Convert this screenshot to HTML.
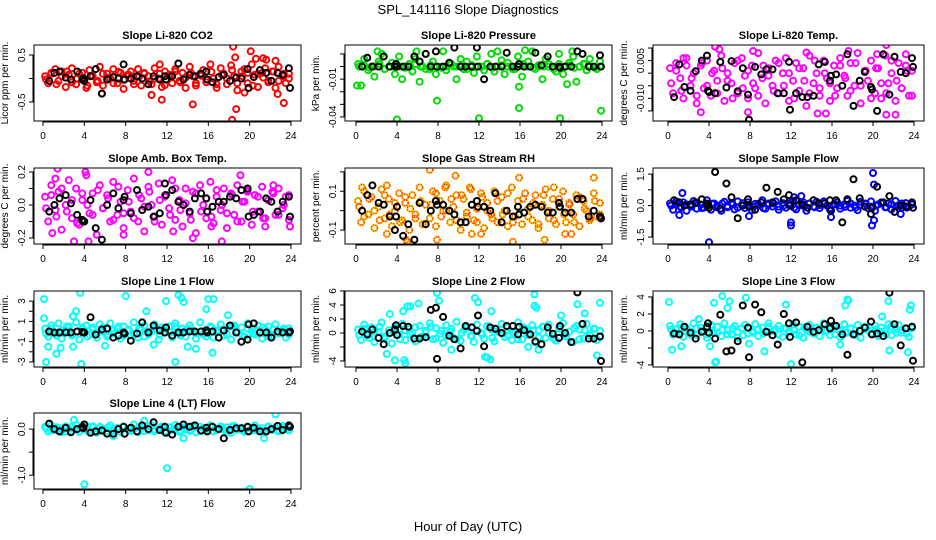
<!DOCTYPE html>
<html><head><meta charset="utf-8">
<style>
body{margin:0;background:#fff;}
svg{display:block;font-family:"Liberation Sans",sans-serif;}
</style></head>
<body>
<svg id="chart" width="936" height="540" viewBox="0 0 936 540" xmlns="http://www.w3.org/2000/svg">
<rect width="936" height="540" fill="#fff"/>
<text x="468" y="14" font-size="13" text-anchor="middle">SPL_141116  Slope Diagnostics</text>
<text x="468" y="531" font-size="13" text-anchor="middle">Hour of Day (UTC)</text>
</svg>
<script>
const hours=[0.2,0.5,0.8,1.2,1.5,1.8,2.2,2.5,2.8,3.2,3.5,3.8,4.2,4.5,4.8,5.2,5.5,5.8,6.2,6.5,6.8,7.2,7.5,7.8,8.2,8.5,8.8,9.2,9.5,9.8,10.2,10.5,10.8,11.2,11.5,11.8,12.2,12.5,12.8,13.2,13.5,13.8,14.2,14.5,14.8,15.2,15.5,15.8,16.2,16.5,16.8,17.2,17.5,17.8,18.2,18.5,18.8,19.2,19.5,19.8,20.2,20.5,20.8,21.2,21.5,21.8,22.2,22.5,22.8,23.2,23.5,23.8];
const hoursB=[0.3,0.8,1.3,1.8,2.3,2.8,3.3,3.8,4.3,4.8,5.3,5.8,6.3,6.8,7.3,7.8,8.3,8.8,9.3,9.8,10.3,10.8,11.3,11.8,12.3,12.8,13.3,13.8,14.3,14.8,15.3,15.8,16.3,16.8,17.3,17.8,18.3,18.8,19.3,19.8,20.3,20.8,21.3,21.8,22.3,22.8,23.3,23.8];
const blackX=[0.6,1.1,1.6,2.2,2.7,3.3,3.8,3.9,4.0,4.6,5.1,5.7,6.2,6.8,7.3,7.8,7.9,8.5,9.1,9.6,10.2,10.7,11.3,11.8,11.9,12.5,13.1,13.6,14.2,14.7,15.3,15.8,15.9,16.4,17.0,17.5,18.1,18.7,19.2,19.8,19.9,20.4,21.0,21.6,22.1,22.7,23.2,23.8,23.9];
const xTicks=[0,4,8,12,16,20,24];

const co2Y=[0.05,-0.1,0.12,0.2,-0.05,0.15,-0.18,0.08,0.22,-0.12,0.1,0.02,-0.2,0.18,0.05,-0.08,0.25,-0.15,0.1,0.0,0.2,-0.1,0.12,-0.22,0.08,0.15,-0.05,0.2,-0.15,0.1,0.05,-0.12,0.22,0.0,-0.18,0.15,0.08,-0.1,0.2,-0.05,0.12,-0.2,0.25,0.05,-0.15,0.1,0.18,-0.08,0.3,0.0,-0.2,0.22,0.1,-0.12,0.28,0.05,-0.25,0.15,0.2,-0.1,0.3,0.08,-0.18,0.12,0.22,-0.05,0.15,-0.2,0.25,0.05,-0.1,0.1];
const co2B=[-0.02,0.1,-0.12,0.05,0.15,-0.08,0.0,0.12,-0.15,0.06,-0.05,0.1,0.02,-0.1,0.14,-0.03,0.08,-0.12,0.04,0.12,-0.06,0.0,0.1,-0.14,0.05,0.15,-0.08,0.02,0.12,-0.1,0.06,-0.02,0.14,-0.12,0.08,0.0,0.18,-0.1,0.05,0.12,-0.15,0.1,0.02,-0.08,0.15,-0.05,0.1,0.0];
const co2OutX=[10.5,11.5,14.5,18.3,18.4,18.6,18.7,19.5,20.1,20.6,21.3,21.6,22.5,23.3,22.7,5.7,11.3];
const co2OutY=[-0.35,-0.45,-0.55,-0.88,0.68,0.45,-0.65,-0.3,0.58,0.42,0.43,0.4,0.38,-0.52,-0.33,-0.32,0.3];
const co2Blk=[-0.05,0.12,0.15,0.02,-0.02,0.15,-0.02,0.0,-0.05,0.05,0.2,-0.32,-0.02,0.03,0.0,0.3,-0.02,0.0,0.05,0.0,-0.12,0.05,-0.02,0.05,-0.02,0.05,0.32,-0.02,0.08,0.05,0.1,0.15,-0.02,-0.08,0.03,0.08,-0.05,0.02,0.0,0.2,-0.2,0.03,0.18,0.12,-0.05,0.12,0.08,0.22,-0.2];

const presY=[0.002,-0.015,0.006,-0.003,0.0,-0.008,0.004,0.01,-0.002,0.0,0.003,-0.006,0.008,-0.01,0.0,0.002,-0.004,0.006,-0.012,0.0,0.01,-0.002,0.004,-0.006,0.0,0.012,-0.003,0.002,0.0,-0.01,0.006,-0.002,0.004,0.0,-0.005,0.008,0.0,-0.003,0.002,0.01,-0.004,0.0,0.005,-0.006,0.003,0.0,-0.002,0.008,-0.008,0.0,0.004,0.012,-0.002,0.0,-0.01,0.006,0.002,0.0,-0.004,0.01,-0.006,0.0,0.003,0.008,-0.012,0.0,0.002,-0.003,0.006,0.0,-0.002,0.004];
const presB=[0.0,0.001,-0.001,0.0,0.002,-0.002,0.0,0.001,0.0,-0.001,0.0,0.002,0.0,-0.002,0.001,0.0,-0.001,0.0,0.002,0.0,0.0,-0.002,0.001,0.0,0.0,0.002,-0.001,0.0,0.001,0.0,-0.002,0.0,0.002,0.0,-0.001,0.001,0.0,0.0,-0.002,0.002,0.0,0.001,-0.001,0.0,0.002,0.0,-0.001,0.0];
const presOutX=[0.1,4.0,7.9,12.0,15.9,15.9,19.9,20.6,23.9,2.1,5.9,16.5,21.1,13.8];
const presOutY=[-0.015,-0.042,-0.027,-0.041,-0.016,-0.033,-0.041,-0.014,-0.035,0.012,0.012,0.013,0.012,0.012];
const presBlk=[0.0,0.007,0.0,0.0,0.008,0.0,0.0,0.002,0.0,0.0,0.0,0.008,0.004,0.01,0.0,0.012,0.0,0.0,0.003,0.015,0.0,0.0,0.0,0.015,0.0,-0.01,0.0,0.0,0.0,0.011,0.0,0.0,0.002,0.0,0.0,0.011,0.001,0.008,0.0,0.0,-0.001,0.0,0.0,0.012,0.01,0.0,0.0,0.009,0.0];

const ltY=[0.002,-0.008,0.004,-0.002,-0.01,0.006,-0.005,0.0,-0.012,0.003,-0.006,0.005,-0.009,0.001,-0.003,0.007,-0.011,0.0,-0.004,0.004,-0.008,0.006,-0.001,-0.01,0.003,-0.006,0.008,-0.002,-0.012,0.002,-0.005,0.005,-0.008,0.0,0.006,-0.011,-0.003,0.004,-0.007,0.002,-0.013,0.007,-0.004,0.0,-0.009,0.005,-0.002,-0.011,0.003,-0.006,0.006,-0.001,-0.009,0.004,-0.005,0.008,-0.012,0.001,-0.003,0.005,-0.008,0.002,-0.01,0.007,-0.004,0.0,-0.011,0.004,-0.006,0.003,-0.009,0.001];
const ltB=[-0.004,0.001,-0.007,0.003,-0.002,-0.009,0.004,-0.005,0.0,-0.008,0.002,-0.003,-0.01,0.005,-0.006,0.001,-0.004,-0.009,0.003,-0.001,-0.007,0.004,-0.005,0.0,-0.01,0.002,-0.003,-0.008,0.005,-0.006,0.0,-0.004,-0.009,0.003,-0.002,-0.007,0.004,-0.005,0.001,-0.01,0.002,-0.004,-0.008,0.005,-0.003,-0.006,0.001,-0.009];
const ltOutX=[4.6,5.0,8.3,13.5,17.6,21.3,20.4,23.2,3.2,14.6,15.4,21.3,22.2,7.8,1.5];
const ltOutY=[0.0105,0.0095,0.0088,0.0082,0.0088,0.0112,0.0075,0.0075,-0.0155,-0.016,-0.016,-0.0165,-0.0165,-0.0155,0.006];
const ltBlk=[-0.0095,0.0035,-0.0055,-0.007,0.0008,0.005,0.007,-0.007,-0.0075,-0.008,0.0045,-0.0057,0.0048,-0.0072,0.002,-0.0085,-0.0185,0.0025,-0.0005,0.0015,0.0015,-0.008,-0.008,0.0045,-0.0145,-0.008,-0.0095,-0.0095,-0.009,0.0035,0.0045,-0.003,-0.001,-0.0005,-0.005,0.0075,-0.013,-0.003,0.0005,-0.0055,-0.0065,-0.015,0.0075,-0.0085,0.0065,0.0005,0.0,0.006,0.0025];

const ambY=[0.05,-0.1,0.12,-0.03,0.08,-0.15,0.0,0.15,-0.08,0.1,-0.12,0.03,0.18,-0.05,0.07,-0.18,0.12,-0.02,0.06,-0.1,0.14,-0.06,0.02,-0.14,0.09,-0.04,0.16,-0.1,0.04,-0.16,0.11,0.0,-0.07,0.13,-0.12,0.06,-0.02,0.15,-0.09,0.03,-0.13,0.1,-0.05,0.08,-0.17,0.12,0.0,-0.08,0.14,-0.11,0.05,-0.03,0.1,-0.14,0.07,-0.06,0.12,-0.1,0.02,0.09,-0.12,0.06,-0.04,0.11,-0.08,0.03,0.08,-0.06,0.1,-0.02,0.05,-0.09];
const ambB=[-0.02,0.06,-0.07,0.1,-0.04,0.03,-0.11,0.07,0.0,-0.06,0.09,-0.02,0.04,-0.09,0.11,-0.05,0.02,-0.08,0.06,-0.01,0.08,-0.1,0.03,0.05,-0.06,0.1,-0.03,0.01,-0.09,0.07,-0.04,0.04,-0.07,0.09,0.0,-0.05,0.06,-0.1,0.02,0.08,-0.04,0.05,-0.08,0.03,0.07,-0.06,0.0,0.06];
const ambOutX=[1.4,4.1,10.2,19.1,3.0,4.4,17.3,14.5,0.9,7.8,12.6,23.9,21.5,16.3,1.2,22.3];
const ambOutY=[0.22,0.2,0.2,0.18,-0.22,-0.22,-0.22,-0.2,-0.17,-0.18,-0.16,-0.13,-0.13,-0.13,0.16,0.12];
const ambBlk=[-0.04,0.0,0.04,0.06,0.01,-0.06,-0.09,-0.1,-0.1,0.03,-0.14,-0.21,0.0,0.07,-0.02,0.03,0.05,-0.05,0.09,-0.03,-0.01,-0.07,-0.05,0.13,0.06,0.09,0.02,0.0,-0.04,0.04,0.07,0.04,-0.04,-0.01,0.02,0.02,0.05,0.04,0.09,0.1,-0.07,-0.06,-0.04,0.04,0.02,-0.04,0.02,0.05,-0.07];

const rhY=[0.05,-0.06,0.1,-0.02,0.07,-0.09,0.02,0.11,-0.04,0.06,-0.08,0.0,0.09,-0.05,0.04,-0.1,0.08,-0.02,0.12,-0.07,0.03,-0.04,0.1,-0.08,0.05,0.0,0.13,-0.06,0.02,0.08,-0.1,0.06,-0.03,0.11,-0.05,0.01,0.09,-0.09,0.04,-0.02,0.1,-0.06,0.07,0.0,-0.08,0.12,-0.03,0.05,-0.07,0.09,0.01,-0.05,0.08,-0.09,0.03,0.11,-0.04,0.06,-0.07,0.02,0.1,-0.06,0.04,-0.02,0.08,-0.08,0.05,0.0,-0.05,0.09,-0.03,0.04];
const rhB=[0.02,-0.03,0.06,0.0,-0.05,0.08,-0.02,0.04,-0.06,0.07,0.01,-0.04,0.05,-0.07,0.03,0.09,-0.03,0.0,0.06,-0.05,0.08,-0.01,0.03,-0.06,0.07,0.0,-0.04,0.05,-0.02,0.09,-0.06,0.02,0.06,-0.03,0.04,-0.07,0.08,0.0,-0.05,0.06,-0.02,0.03,-0.06,0.07,0.01,-0.04,0.05,-0.02];
const rhOutX=[7.2,9.7,15.9,23.2,0.6,3.0,8.7,11.1,19.3,4.9,5.0,7.9,15.3,18.4,11.3,12.2,20.4,21.0,3.0];
const rhOutY=[0.21,0.18,0.17,0.17,0.12,0.13,0.12,0.12,0.12,-0.15,-0.16,-0.15,-0.16,-0.15,-0.12,-0.12,-0.12,-0.12,-0.12];
const rhBlk=[0.0,0.08,0.13,0.04,0.03,-0.03,-0.1,-0.03,0.02,-0.13,-0.07,-0.15,0.04,-0.07,0.0,0.05,0.03,0.03,0.0,-0.02,-0.06,-0.06,0.03,0.05,0.02,0.02,0.0,0.09,-0.06,0.0,-0.03,0.02,-0.02,-0.01,0.02,0.03,0.02,-0.01,-0.01,0.04,0.02,-0.01,-0.01,0.06,0.06,-0.03,0.0,-0.03,-0.04];

const sfY=[0.1,-0.2,0.2,-0.05,0.15,-0.25,0.0,0.22,-0.15,0.05,-0.1,0.25,-0.2,0.1,0.0,-0.25,0.18,-0.08,0.12,-0.18,0.2,0.02,-0.12,0.15,-0.22,0.08,0.0,0.25,-0.15,0.1,-0.05,0.2,-0.2,0.12,-0.1,0.05,0.22,-0.18,0.0,0.15,-0.25,0.1,-0.05,0.18,-0.12,0.2,0.0,-0.2,0.08,0.15,-0.15,0.05,0.22,-0.1,0.0,-0.22,0.18,0.1,-0.12,0.2,-0.25,0.05,0.15,-0.08,0.1,-0.18,0.22,0.0,-0.1,0.12,-0.05,0.08];
const sfB=[0.0,0.1,-0.1,0.05,-0.05,0.12,-0.12,0.0,0.08,-0.08,0.1,-0.02,0.05,-0.1,0.12,0.0,-0.06,0.08,-0.12,0.04,0.1,-0.05,0.0,0.12,-0.1,0.06,-0.03,0.1,-0.08,0.02,0.12,-0.12,0.05,0.0,-0.06,0.1,-0.1,0.04,0.08,-0.05,0.0,0.12,-0.08,0.06,-0.02,0.1,-0.1,0.05];
const sfOutX=[1.4,4.0,12.0,12.0,15.9,19.9,20.0,20.1,20.1,7.9,13.0,1.1,22.7,12.3];
const sfOutY=[0.6,-1.75,-0.8,-0.95,-0.55,-0.95,1.55,-0.7,1.0,-0.5,0.45,-0.45,-0.4,0.4];
const sfBlk=[0.25,0.15,0.0,0.05,0.15,0.3,0.1,0.0,-0.1,1.6,-0.15,1.05,0.4,-0.6,0.0,0.3,-0.05,-0.2,0.15,0.85,0.15,0.65,0.3,0.5,0.0,0.25,0.05,-0.1,0.25,0.1,0.1,0.25,-0.25,0.25,-0.8,0.3,1.25,0.35,-0.05,-0.4,-0.1,0.9,0.15,0.45,-0.3,0.0,-0.05,0.15,-0.1];

const l1Y=[0.3,-0.5,0.6,-0.2,0.8,-0.7,0.1,0.5,-0.4,0.9,-0.8,0.2,0.6,-0.3,0.4,-0.6,0.7,0.0,-0.5,0.8,-0.2,0.3,-0.7,0.5,0.1,-0.4,0.9,-0.6,0.2,0.6,-0.3,0.0,0.7,-0.8,0.4,-0.1,0.5,-0.6,0.8,-0.2,0.3,-0.5,0.6,0.0,-0.7,0.9,-0.3,0.2,0.5,-0.6,0.1,0.7,-0.4,0.3,-0.8,0.6,-0.1,0.4,-0.5,0.8,0.0,-0.3,0.6,-0.7,0.2,0.5,-0.4,0.7,-0.2,0.1,-0.6,0.3];
const l1B=[-0.2,0.3,-0.4,0.1,0.5,-0.3,0.0,0.4,-0.5,0.2,-0.1,0.4,-0.3,0.1,0.5,-0.4,0.2,-0.2,0.3,-0.5,0.0,0.4,-0.3,0.2,-0.1,0.5,-0.4,0.1,0.3,-0.2,0.0,-0.5,0.4,-0.1,0.2,-0.3,0.5,0.0,-0.4,0.3,-0.2,0.1,0.4,-0.5,0.2,-0.1,0.3,-0.3];
const l1OutX=[0.1,0.3,3.6,3.7,8.0,11.9,13.1,13.4,13.6,12.8,16.0,16.5,15.8,10.0,3.2,2.9,0.5,1.3,1.7,2.9,16.4,14.0,14.8,10.7,6.0,0.1,17.9];
const l1OutY=[3.2,-3.0,3.8,-3.2,3.5,3.0,3.6,3.3,2.9,-3.0,3.2,3.2,2.2,2.0,2.0,1.5,-1.5,-2.2,-1.6,-1.5,-2.1,-1.5,-1.7,-1.3,-1.4,1.3,1.6];
const l1Blk=[0.0,-0.1,-0.1,-0.1,-0.1,0.0,-0.05,-0.1,-0.1,1.4,-0.3,0.2,0.3,-0.6,-0.4,-0.1,-0.2,-0.9,-0.2,0.9,-0.1,0.6,0.1,-0.1,0.4,-0.4,-0.1,-0.1,0.0,0.0,0.0,0.1,-0.1,0.0,-0.6,0.1,0.6,-0.1,-1.0,-0.8,0.7,0.8,-0.1,-0.1,-0.6,0.0,-0.1,-0.1,0.0];

const l2Y=[0.5,-1.0,1.2,-0.3,0.8,-1.3,0.2,1.5,-0.8,0.4,-1.5,0.9,-0.2,1.3,-1.0,0.6,0.0,-1.2,1.0,-0.5,0.3,1.4,-0.9,0.7,-0.1,-1.4,1.1,0.2,-0.7,1.6,-1.1,0.4,0.9,-0.4,-1.3,1.2,0.0,-0.8,1.0,0.5,-1.2,0.3,1.3,-0.6,0.8,-1.0,0.1,1.5,-0.9,0.6,-0.3,1.1,-1.4,0.4,0.9,-0.7,1.2,-0.2,-1.1,0.7,1.4,-0.5,0.2,-1.3,1.0,0.5,-0.8,1.3,-0.4,0.6,-1.0,0.3];
const l2B=[-0.3,0.6,-0.7,0.2,0.9,-0.5,0.0,0.7,-0.9,0.4,-0.2,0.8,-0.6,0.1,0.9,-0.8,0.3,-0.4,0.6,-0.9,0.0,0.7,-0.5,0.4,-0.2,0.9,-0.7,0.2,0.5,-0.4,0.0,-0.9,0.8,-0.1,0.4,-0.6,0.9,0.0,-0.8,0.6,-0.3,0.2,0.7,-0.9,0.4,-0.2,0.6,-0.5];
const l2OutX=[7.9,11.6,11.9,17.4,17.4,17.6,21.6,23.8,6.1,5.0,5.3,4.6,3.3,8.1,13.2,3.0,3.8,4.7,4.8,12.6,12.8,13.1,23.5,9.3,17.8,16.8,22.3,20.0];
const l2OutY=[5.7,5.0,4.4,5.5,3.9,3.6,4.1,4.3,4.2,3.8,3.8,3.1,2.7,4.6,3.1,-3.0,-3.9,-3.9,-4.3,-3.4,-3.5,-3.8,-3.2,-2.4,-2.4,-2.0,2.8,2.5];
const l2Blk=[0.2,-0.2,0.5,-0.7,-1.6,0.0,0.5,1.1,-0.3,1.0,0.9,-0.8,-0.8,-0.6,3.3,3.6,-3.7,2.3,-0.4,-0.9,-2.2,1.0,0.8,0.3,2.5,-1.9,0.8,0.6,0.0,1.0,1.0,-0.2,0.9,0.4,-0.2,-1.2,-1.6,0.8,-0.1,-0.7,1.0,0.0,-1.3,5.8,1.3,-0.8,-0.8,-0.5,-4.0];

const l3Y=[0.6,-0.4,0.2,0.8,-0.7,0.3,-0.1,0.9,-0.5,0.4,0.0,-0.8,0.7,-0.2,0.5,-0.6,0.9,0.1,-0.4,0.6,-0.8,0.3,0.7,-0.3,0.0,0.8,-0.6,0.4,-0.1,0.9,-0.5,0.2,0.6,-0.7,0.3,0.0,0.8,-0.4,0.5,-0.8,0.1,0.7,-0.3,0.4,-0.6,0.9,0.0,-0.5,0.6,0.2,-0.7,0.8,-0.2,0.3,-0.4,0.7,-0.8,0.5,0.1,-0.3,0.6,-0.6,0.4,0.0,0.8,-0.5,0.2,0.7,-0.2,0.3,-0.7,0.5];
const l3B=[0.2,-0.3,0.4,-0.1,-0.5,0.3,0.0,-0.4,0.5,-0.2,0.1,-0.4,0.3,-0.1,-0.5,0.4,-0.2,0.2,-0.3,0.5,0.0,-0.4,0.3,-0.2,0.1,-0.5,0.4,-0.1,-0.3,0.2,0.0,0.5,-0.4,0.1,-0.2,0.3,-0.5,0.0,0.4,-0.3,0.2,-0.1,-0.4,0.5,-0.2,0.1,-0.3,0.3];
const l3OutX=[0.1,0.4,1.3,4.5,4.6,4.7,5.3,6.0,5.8,7.6,11.5,12.0,17.3,17.5,17.6,21.5,23.7,23.6,23.4,21.6,9.4,7.9,4.1,16.8,3.0,20.9];
const l3OutY=[3.4,-2.2,-1.8,3.3,-3.7,-3.6,4.1,3.5,2.7,3.9,3.1,-3.9,3.0,3.7,3.6,3.5,3.0,2.5,-2.5,-2.3,-2.4,-1.5,-1.8,-1.6,1.4,1.7];
const l3Blk=[-0.3,-0.4,0.5,-0.2,-0.9,-0.1,0.5,0.9,-0.2,-0.9,1.9,-2.4,-2.3,-1.2,3.0,0.4,-3.1,3.1,2.2,-0.1,-0.5,-1.6,2.0,0.9,-0.7,1.0,-3.7,0.5,-0.1,0.1,0.8,0.3,1.2,0.6,-0.4,-2.8,-0.4,0.0,0.4,1.1,-0.4,-0.3,-0.6,4.5,0.8,-1.7,0.3,0.5,-3.5];

const l4Y=[0.05,-0.05,0.08,-0.02,0.03,-0.07,0.06,0.0,-0.04,0.09,-0.06,0.02,0.07,-0.03,0.04,-0.08,0.05,0.01,-0.05,0.08,-0.02,0.03,-0.06,0.06,0.0,-0.04,0.1,-0.07,0.02,0.05,-0.03,0.08,-0.05,0.01,0.06,-0.08,0.04,-0.02,0.09,-0.06,0.03,0.0,-0.04,0.07,-0.07,0.05,0.02,-0.03,0.08,-0.05,0.01,0.06,-0.02,0.04,-0.08,0.07,-0.01,0.03,-0.06,0.05,0.0,0.08,-0.04,0.02,-0.07,0.06,-0.02,0.04,-0.05,0.07,0.01,-0.03];
const l4B=[0.02,-0.03,0.04,0.0,-0.05,0.05,-0.01,0.03,-0.04,0.06,0.0,-0.02,0.04,-0.05,0.02,0.05,-0.03,0.0,0.04,-0.04,0.06,-0.01,0.02,-0.05,0.03,0.0,-0.03,0.05,-0.02,0.04,-0.04,0.01,0.05,-0.02,0.03,-0.05,0.06,0.0,-0.03,0.04,-0.02,0.02,-0.04,0.05,0.01,-0.03,0.04,-0.01];
const l4OutX=[4.0,12.0,20.0,22.5,3.0,13.6,21.4,6.8,9.8];
const l4OutY=[-1.2,-0.85,-1.3,0.32,0.2,-0.2,-0.2,-0.15,0.18];
const l4Blk=[0.12,0.0,-0.05,0.03,-0.07,0.0,0.05,0.02,0.1,-0.08,-0.05,-0.03,-0.1,-0.1,0.0,0.05,-0.1,0.03,-0.05,0.08,0.0,0.15,-0.02,0.05,-0.08,-0.12,0.05,0.1,0.05,0.08,-0.03,0.03,-0.05,0.05,0.0,-0.2,-0.02,0.02,0.02,0.05,-0.05,0.03,-0.05,-0.05,0.0,0.07,-0.02,0.08,0.05];

const co2Ticks=[0.5,0,-0.5], co2Labels=["0.5","","-0.5"];
const presTicks=[0.01,0,-0.01,-0.02,-0.03,-0.04], presLabels=["","","-0.01","","","-0.04"];
const ltTicks=[0.01,0.005,0,-0.005,-0.01,-0.015], ltLabels=["","0.005","","","-0.010",""];
const ambTicks=[0.2,0.1,0,-0.1,-0.2], ambLabels=["0.2","","0.0","","-0.2"];
const rhTicks=[0.2,0.1,0,-0.1], rhLabels=["","0.1","","-0.1"];
const sfTicks=[1.5,0.75,0,-0.75,-1.5], sfLabels=["1.5","","0.0","","-1.5"];
const l1Ticks=[3,2,1,0,-1,-2,-3], l1Labels=["3","","1","","-1","","-3"];
const l2Ticks=[6,4,2,0,-2,-4], l2Labels=["6","4","2","0","","-4"];
const l3Ticks=[4,2,0,-2,-4], l3Labels=["4","2","0","","-4"];
const l4Ticks=[0,-0.5,-1], l4Labels=["0.0","","-1.0"];

const panels=[
 {name:"co2",title:"Slope Li-820 CO2",ylab:"Licor ppm per min.",col:"#ff0000",y:co2Y,y2:co2B,ox:co2OutX,oy:co2OutY,b:co2Blk,ticks:co2Ticks,labels:co2Labels,dom:[-0.904,0.713],box:[34,45,301,121],x0:43,x1:291},
 {name:"pressure",title:"Slope Li-820 Pressure",ylab:"kPa per min.",col:"#00dd00",y:presY,y2:presB,ox:presOutX,oy:presOutY,b:presBlk,ticks:presTicks,labels:presLabels,dom:[-0.0432,0.0171],box:[345,45,612,121],x0:356,x1:602},
 {name:"li-temp",title:"Slope Li-820 Temp.",ylab:"degrees C per min.",col:"#ff00ff",y:ltY,y2:ltB,ox:ltOutX,oy:ltOutY,b:ltBlk,ticks:ltTicks,labels:ltLabels,dom:[-0.019,0.0112],box:[653,45,924,121],x0:668,x1:914},
 {name:"amb-box-temp",title:"Slope Amb. Box Temp.",ylab:"degrees C per min.",col:"#ff00ff",y:ambY,y2:ambB,ox:ambOutX,oy:ambOutY,b:ambBlk,ticks:ambTicks,labels:ambLabels,dom:[-0.236,0.224],box:[34,168,301,244],x0:43,x1:291},
 {name:"gas-stream-rh",title:"Slope Gas Stream RH",ylab:"percent per min.",col:"#ffc000",col2:"#ff3000",y:rhY,y2:rhB,ox:rhOutX,oy:rhOutY,b:rhBlk,ticks:rhTicks,labels:rhLabels,dom:[-0.172,0.22],box:[345,168,612,244],x0:356,x1:602},
 {name:"sample-flow",title:"Slope Sample Flow",ylab:"ml/min per min.",col:"#0000ff",y:sfY,y2:sfB,ox:sfOutX,oy:sfOutY,b:sfBlk,ticks:sfTicks,labels:sfLabels,dom:[-1.83,1.79],box:[653,168,924,244],x0:668,x1:914},
 {name:"line1-flow",title:"Slope Line 1 Flow",ylab:"ml/min per min.",col:"#00ffff",y:l1Y,y2:l1B,ox:l1OutX,oy:l1OutY,b:l1Blk,ticks:l1Ticks,labels:l1Labels,dom:[-3.5,4.0],box:[34,291,301,367],x0:43,x1:291},
 {name:"line2-flow",title:"Slope Line 2 Flow",ylab:"ml/min per min.",col:"#00ffff",y:l2Y,y2:l2B,ox:l2OutX,oy:l2OutY,b:l2Blk,ticks:l2Ticks,labels:l2Labels,dom:[-4.86,6.0],box:[345,291,612,367],x0:356,x1:602},
 {name:"line3-flow",title:"Slope Line 3 Flow",ylab:"ml/min per min.",col:"#00ffff",y:l3Y,y2:l3B,ox:l3OutX,oy:l3OutY,b:l3Blk,ticks:l3Ticks,labels:l3Labels,dom:[-4.24,4.7],box:[653,291,924,367],x0:668,x1:914},
 {name:"line4-lt-flow",title:"Slope Line 4 (LT) Flow",ylab:"ml/min per min.",col:"#00ffff",y:l4Y,y2:l4B,ox:l4OutX,oy:l4OutY,b:l4Blk,ticks:l4Ticks,labels:l4Labels,dom:[-1.30,0.35],box:[34,413,301,489],x0:43,x1:291}
];

const NS="http://www.w3.org/2000/svg";
const svg=document.getElementById("chart");
function mk(tag,attrs,parent){const e=document.createElementNS(NS,tag);for(const k in attrs)e.setAttribute(k,attrs[k]);parent.appendChild(e);return e;}

panels.forEach(p=>{
 const g=mk("g",{},svg);
 
 
 const [L,T,R,B]=p.box;
 const xs=v=>p.x0+(v/24)*(p.x1-p.x0);
 const ys=v=>B-(v-p.dom[0])/(p.dom[1]-p.dom[0])*(B-T);
 const clipId="clip-"+p.name;
 const cp=mk("clipPath",{id:clipId},g);
 mk("rect",{x:L,y:T,width:R-L,height:B-T},cp);
 const t=mk("text",{x:(L+R)/2,y:T-6,"font-size":11,"font-weight":"bold","text-anchor":"middle"},g);
 t.textContent=p.title;
 
 
 const yl=mk("text",{x:0,y:0,"font-size":10,"text-anchor":"middle",transform:`translate(${L-26},${(T+B)/2}) rotate(-90)`},g);
 yl.textContent=p.ylab;
 
 
 const pts=mk("g",{"clip-path":`url(#${clipId})`,fill:"none"},g);
 
 
 const dot=(x,y,c,w,extra)=>{const a={cx:xs(x).toFixed(1),cy:ys(y).toFixed(1),r:3,stroke:c,"stroke-width":w};if(extra)Object.assign(a,extra);return mk("circle",a,pts);};
 const colored=(x,y)=>{
   const c=dot(x,y,p.col,2);
   
   
 };
 p.y.forEach((v,i)=>{if(i<hours.length)colored(hours[i],v);});
 p.y2.forEach((v,i)=>{if(i<hoursB.length)colored(hoursB[i],v);});
 p.oy.forEach((v,i)=>colored(p.ox[i],v));
 if(p.col2){
   p.y.forEach((v,i)=>{if(i<hours.length)dot(hours[i],v,p.col2,1.5,{"stroke-dasharray":"1 1.5"});});
   p.y2.forEach((v,i)=>{if(i<hoursB.length)dot(hoursB[i],v,p.col2,1.5,{"stroke-dasharray":"1 1.5"});});
   p.oy.forEach((v,i)=>dot(p.ox[i],v,p.col2,1.5,{"stroke-dasharray":"1 1.5"}));
 }
 p.b.forEach((v,i)=>{if(i<blackX.length){const c=dot(blackX[i],v,"#000",2);
   
   }});
 const frame=mk("rect",{x:L,y:T,width:R-L,height:B-T,fill:"none",stroke:"#000","stroke-width":1},g);
 
 
 const xa=mk("g",{},g);
 
 
 mk("line",{x1:xs(0),x2:xs(24),y1:B+1,y2:B+1,stroke:"#000"},xa);
 xTicks.forEach(v=>{
   mk("line",{x1:xs(v),x2:xs(v),y1:B,y2:B+5,stroke:"#000"},xa);
   const tl=mk("text",{x:xs(v),y:B+18,"font-size":10,"text-anchor":"middle"},xa);
   tl.textContent=String(v);
 });
 const ya=mk("g",{},g);
 
 
 mk("line",{x1:L-1,x2:L-1,y1:ys(p.ticks[0]),y2:ys(p.ticks[p.ticks.length-1]),stroke:"#000"},ya);
 p.ticks.forEach((v,i)=>{
   const y=ys(v);
   mk("line",{x1:L-5,x2:L,y1:y,y2:y,stroke:"#000"},ya);
   if(p.labels[i]){
     const tl=mk("text",{x:0,y:0,"font-size":10,"text-anchor":"middle",transform:`translate(${L-9},${y}) rotate(-90)`},ya);
     tl.textContent=p.labels[i];
   }
 });
});
</script>
</body></html>
